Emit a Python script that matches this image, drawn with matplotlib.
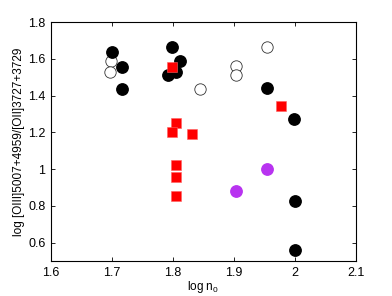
import numpy as np
import matplotlib
matplotlib.use('Agg')
import matplotlib.pyplot as plt
from matplotlib.ticker import FuncFormatter

plt.rcParams['font.family'] = ['Liberation Sans', 'DejaVu Sans']
plt.rcParams['mathtext.fontset'] = 'custom'
plt.rcParams['mathtext.rm'] = 'Liberation Sans'
plt.rcParams['mathtext.it'] = 'Liberation Sans'

# filled black circles
blk_x = [1.700, 1.716, 1.716, 1.798, 1.812, 1.792, 1.806, 1.954, 1.999, 2.000, 2.000]
blk_y = [1.636, 1.558, 1.434, 1.664, 1.590, 1.512, 1.530, 1.440, 1.272, 0.825, 0.562]

# open circles
opn_x = [1.698, 1.697, 1.845, 1.903, 1.903, 1.954]
opn_y = [1.590, 1.530, 1.434, 1.562, 1.512, 1.664]

# red squares
red_x = [1.799, 1.806, 1.799, 1.832, 1.977, 1.806, 1.806, 1.806]
red_y = [1.558, 1.254, 1.200, 1.192, 1.342, 1.025, 0.960, 0.854]

# purple circles
pur_x = [1.903, 1.954]
pur_y = [0.880, 1.003]

fig = plt.figure(figsize=(3.92, 2.96), dpi=100)
ax = fig.add_axes([0.130, 0.118, 0.777, 0.807])

ax.plot(opn_x, opn_y, 'o', ms=8.2, mfc='white', mec='#333333', mew=0.6, ls='none')
ax.plot(blk_x, blk_y, 'o', ms=8.2, color='black', ls='none')
ax.plot(red_x, red_y, 's', ms=6.7, color='red', mec='#ff6060', mew=0.4, ls='none')
ax.plot(pur_x, pur_y, 'o', ms=8.2, color='#b833f0', ls='none')

ax.set_xlim(1.6, 2.1)
ax.set_ylim(0.5, 1.8)
ax.set_xticks([1.6, 1.7, 1.8, 1.9, 2.0, 2.1])
ax.set_yticks([0.6, 0.8, 1.0, 1.2, 1.4, 1.6, 1.8])
fmt = FuncFormatter(lambda v, p: '%g' % round(v, 2))
ax.xaxis.set_major_formatter(fmt)
ax.yaxis.set_major_formatter(fmt)
ax.tick_params(direction='in', top=True, right=True, labelsize=9, length=3, width=0.6, pad=4)
for s in ax.spines.values():
    s.set_linewidth(0.8)

ax.set_xlabel('log n$_0$', fontsize=8.5, labelpad=0)
ax.set_ylabel('log [OIII]5007+4959/[OII]3727+3729', fontsize=8.5, labelpad=2)

fig.savefig('out.png', dpi=100)
